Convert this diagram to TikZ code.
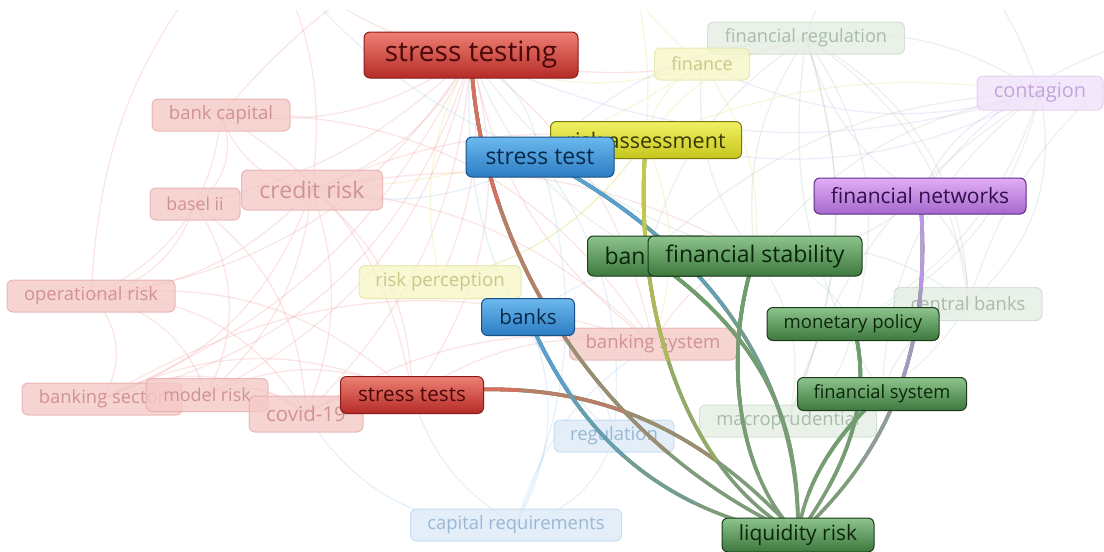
\documentclass[tikz,border=0pt]{standalone}
\usepackage{fontspec}
\setmainfont{Open Sans}
\pgfdeclarelayer{lzero}\pgfdeclarelayer{lone}\pgfdeclarelayer{ltwo}
\pgfsetlayers{lzero,lone,ltwo,main}
% strong node colours
\definecolor{rtop}{HTML}{EE8074}\definecolor{rbot}{HTML}{B52B27}\definecolor{rdr}{HTML}{8A1A1A}\definecolor{rtx}{HTML}{4A0808}
\definecolor{btop}{HTML}{6CB9EE}\definecolor{bbot}{HTML}{2B7CC3}\definecolor{bdr}{HTML}{1A4E88}\definecolor{btx}{HTML}{082848}
\definecolor{ytop}{HTML}{F0F062}\definecolor{ybot}{HTML}{C6C61E}\definecolor{ydr}{HTML}{7A7A10}\definecolor{ytx}{HTML}{383800}
\definecolor{gtop}{HTML}{8DC48D}\definecolor{gbot}{HTML}{3D783D}\definecolor{gdr}{HTML}{1A3A1A}\definecolor{gtx}{HTML}{0A250A}
\definecolor{ptop}{HTML}{E2AEF6}\definecolor{pbot}{HTML}{A468CC}\definecolor{pdr}{HTML}{5C2C84}\definecolor{ptx}{HTML}{30104A}
% faded node colours
\definecolor{frf}{HTML}{F4C9C7}\definecolor{frd}{HTML}{E2A4A4}\definecolor{frt}{HTML}{D09292}
\definecolor{fyf}{HTML}{F6F6C8}\definecolor{fyd}{HTML}{E2E2A0}\definecolor{fyt}{HTML}{C8C88A}
\definecolor{fgf}{HTML}{E4EDE4}\definecolor{fgd}{HTML}{C8D8C8}\definecolor{fgt}{HTML}{A8BCA8}
\definecolor{fbf}{HTML}{DCEAF7}\definecolor{fbd}{HTML}{B8D4EE}\definecolor{fbt}{HTML}{9AB8D4}
\definecolor{fpf}{HTML}{F0E2FA}\definecolor{fpd}{HTML}{DCC4EC}\definecolor{fpt}{HTML}{C4A4DC}
% edge colours
\definecolor{ered}{HTML}{D4705F}\definecolor{eblue}{HTML}{5B9FCF}\definecolor{eyel}{HTML}{C4C848}
\definecolor{egrn}{HTML}{6E9E6C}\definecolor{epur}{HTML}{B898E0}\definecolor{eend}{HTML}{7D9C78}
\definecolor{lred}{HTML}{EC8A8A}\definecolor{lblue}{HTML}{8CC0E6}\definecolor{lyel}{HTML}{E0DC6A}
\definecolor{lgrn}{HTML}{A4C2A4}\definecolor{lpur}{HTML}{C9A2E6}
\newcommand\fsz[1]{\fontsize{#1pt}{#1pt}\selectfont}
\newcommand\myedge[6]{%
  \pgfmathsetmacro\La{0.75*#4}\pgfmathsetmacro\Lb{0.5*#4}\pgfmathsetmacro\Lc{0.25*#4}%
  \draw[sedge,color=#6] (#1.center) .. controls #2 and #3 .. (liq.center);
  \draw[sedge,color=#5!33!#6,dash pattern=on \La pt off 3000pt] (#1.center) .. controls #2 and #3 .. (liq.center);
  \draw[sedge,color=#5!67!#6,dash pattern=on \Lb pt off 3000pt] (#1.center) .. controls #2 and #3 .. (liq.center);
  \draw[sedge,color=#5,dash pattern=on \Lc pt off 3000pt] (#1.center) .. controls #2 and #3 .. (liq.center);
}
\tikzset{
  kbox/.style={rounded corners=6pt, inner sep=0pt, line width=1pt},
  dims/.style n args={3}{minimum width=#1pt, minimum height=#2pt, font=\fsz{#3}},
  redn/.style={kbox, top color=rtop, bottom color=rbot, draw=rdr, text=rtx},
  bluen/.style={kbox, top color=btop, bottom color=bbot, draw=bdr, text=btx},
  yeln/.style={kbox, top color=ytop, bottom color=ybot, draw=ydr, text=ytx},
  grnn/.style={kbox, top color=gtop, bottom color=gbot, draw=gdr, text=gtx},
  purn/.style={kbox, top color=ptop, bottom color=pbot, draw=pdr, text=ptx},
  faded/.style={kbox, fill opacity=0.8, draw opacity=0.7, text opacity=1},
  fred/.style={faded, fill=frf, draw=frd, text=frt},
  fyel/.style={faded, fill=fyf, draw=fyd, text=fyt},
  fgrn/.style={faded, fill=fgf, draw=fgd, text=fgt},
  fblue/.style={faded, fill=fbf, draw=fbd, text=fbt},
  fpur/.style={faded, fill=fpf, draw=fpd, text=fpt},
  sedge/.style={line width=3.6pt},
  faint/.style={line width=1.3pt, opacity=0.22},
}
\begin{document}
\begin{tikzpicture}[x=1pt,y=-1pt]
\useasboundingbox (0,0) rectangle (1104,552);
\clip (0,0) rectangle (1104,552);
% faded nodes
\begin{pgfonlayer}{lone}
\node[fgrn, dims={197}{32}{18.2}] (finreg) at (806,38) {financial regulation};
\node[fyel, dims={95}{32}{18}] (finance) at (702,64) {finance};
\node[fpur, dims={126}{34}{20}] (contagion) at (1040,93) {contagion};
\node[fred, dims={138}{32}{18.5}] (bankcap) at (221,115) {bank capital};
\node[fred, dims={90}{32}{17.7}] (basel) at (195,204) {basel ii};
\node[fred, dims={141}{40}{23}] (credit) at (312,190) {credit risk};
\node[fyel, dims={162}{33}{18.6}] (riskper) at (440,282) {risk perception};
\node[fred, dims={168}{32}{18.4}] (oprisk) at (91,296) {operational risk};
\node[fgrn, dims={148}{33}{18.4}] (central) at (968,304) {central banks};
\node[fred, dims={167}{32}{18.5}] (banksys) at (653,344) {banking system};
\node[fred, dims={160}{32}{18.4}] (banksec) at (102,399) {banking sector};
\node[fred, dims={122}{33}{17.9}] (model) at (207,395) {model risk};
\node[fred, dims={114}{36}{20.5}] (covid) at (306,414) {covid-19};
\node[fblue, dims={211}{32}{18.4}] (capreq) at (516,525) {capital requirements};
\node[fblue, dims={120}{32}{18.5}] (regul) at (614,436) {regulation};
\node[fgrn, dims={177}{32}{18.4}] (macro) at (788,421) {macroprudential};
\end{pgfonlayer}
% strong nodes
\node[redn, dims={214}{46}{28}] (sting) at (471,55) {stress testing};
\node[yeln, dims={191}{37}{21.5}] (riskass) at (646,140) {risk assessment};
\node[bluen, dims={148}{40}{23}] (sttest) at (540,157) {stress test};
\node[purn, dims={212}{36}{21}] (finnet) at (920,196) {financial networks};
\node[grnn, dims={120}{40}{23}, anchor=west] (ban) at (587,256) {\makebox[86pt][l]{ban}};
\node[grnn, dims={214}{40}{23}] (finstab) at (755,256) {financial stability};
\node[bluen, dims={93}{37}{20.5}] (banks) at (528,317) {banks};
\node[grnn, dims={172}{33}{18.5}] (monpol) at (853,324) {monetary policy};
\node[grnn, dims={169}{33}{18.3}] (finsys) at (882,394) {financial system};
\node[redn, dims={143}{37}{20.7}] (sttests) at (412,395) {stress tests};
\node[grnn, dims={152}{34}{21}] (liq) at (798,535) {liquidity risk};
\coordinate (o1) at (600,-100);
\coordinate (o2) at (250,-80);
\coordinate (o3) at (900,-90);
\coordinate (o4) at (1180,30);
% faint background links
\begin{pgfonlayer}{lzero}
\begin{scope}
\clip (0,10) rectangle (1104,552);
\foreach \a/\b/\c in {sting/credit/20, sting/bankcap/20, sting/basel/15, sting/oprisk/25, sting/banksec/30,
  sting/model/25, sting/covid/20, sting/sttests/25, sting/banksys/20, sting/riskper/15, credit/bankcap/30,
  credit/oprisk/20, credit/banksec/25, credit/model/20, credit/covid/20, credit/sttests/25, credit/banksys/20,
  credit/riskass/15, bankcap/oprisk/30, bankcap/basel/40, bankcap/sttests/25, bankcap/banksys/30, basel/oprisk/30,
  basel/model/30, basel/covid/25, oprisk/banksec/40, oprisk/model/30, oprisk/sttests/25, oprisk/covid/30,
  banksec/covid/30, banksec/sttests/25, banksec/banksys/25, model/sttests/25, model/covid/30, covid/sttests/20,
  covid/banksys/20, sttests/banksys/20, banksys/sting/20, banksys/finstab/20, banksec/sting/-20, sting/o2/20,
  credit/o2/-20, bankcap/o1/20, oprisk/o2/20, sting/finreg/-15, credit/finstab/20}
  \draw[faint, lred] (\a.center) to[bend left=\c] (\b.center);
\foreach \a/\b/\c in {sttest/capreq/20, banks/capreq/25, regul/capreq/30, sttest/regul/20, banks/regul/25,
  sting/sttest/25, capreq/covid/30, capreq/banksys/20, sttest/credit/20, regul/sting/25, capreq/sttests/20,
  banks/finstab/20, sttest/finreg/20, sttest/o2/15}
  \draw[faint, lblue] (\a.center) to[bend left=\c] (\b.center);
\foreach \a/\b/\c in {riskass/finance/25, riskass/riskper/20, finance/sting/20, riskper/riskass/-20,
  finance/credit/15, riskass/finreg/20, riskass/contagion/15, finance/finstab/20, riskper/sting/20,
  riskass/banksys/20, finance/o1/20, riskass/o1/-15}
  \draw[faint, lyel] (\a.center) to[bend left=\c] (\b.center);
\foreach \a/\b/\c in {finstab/finreg/20, finstab/contagion/20, finstab/central/25, finstab/macro/25,
  finstab/monpol/25, finreg/contagion/20, finreg/central/30, contagion/central/30, contagion/monpol/25,
  central/macro/25, monpol/macro/25, finsys/central/25, finreg/monpol/25, finreg/macro/20, finsys/contagion/25,
  finstab/finance/20, ban/contagion/20, ban/finreg/20, macro/contagion/20, central/finreg/-25, finsys/finreg/20,
  monpol/contagion/-20, finstab/sting/20, ban/sting/20, finreg/o3/20, central/o4/20, macro/finreg/-20}
  \draw[faint, lgrn] (\a.center) to[bend left=\c] (\b.center);
\foreach \a/\b/\c in {finnet/contagion/25, contagion/riskass/20, finnet/finreg/20, contagion/sting/20,
  finnet/finstab/20, contagion/finance/20, finnet/central/25, contagion/o3/-20, finnet/o4/20}
  \draw[faint, lpur] (\a.center) to[bend left=\c] (\b.center);
\end{scope}
\end{pgfonlayer}
% highlighted links of liquidity risk
\begin{pgfonlayer}{ltwo}
\myedge{sting}{(478,240)}{(590,440)}{610}{ered}{eend}
\myedge{sttests}{(560,375)}{(680,405)}{430}{ered}{eend}
\myedge{banks}{(575,425)}{(650,510)}{340}{eblue}{eend}
\myedge{sttest}{(705,245)}{(800,370)}{485}{eblue}{eend}
\myedge{riskass}{(632,300)}{(680,470)}{447}{eyel}{eend}
\myedge{finstab}{(720,360)}{(740,480)}{297}{egrn}{eend}
\myedge{ban}{(770,340)}{(800,430)}{333}{egrn}{eend}
\myedge{monpol}{(875,400)}{(845,470)}{226}{egrn}{eend}
\myedge{finsys}{(840,430)}{(805,480)}{167}{egrn}{eend}
\myedge{finnet}{(935,360)}{(880,460)}{373}{epur}{eend}
\end{pgfonlayer}
\end{tikzpicture}
\end{document}
